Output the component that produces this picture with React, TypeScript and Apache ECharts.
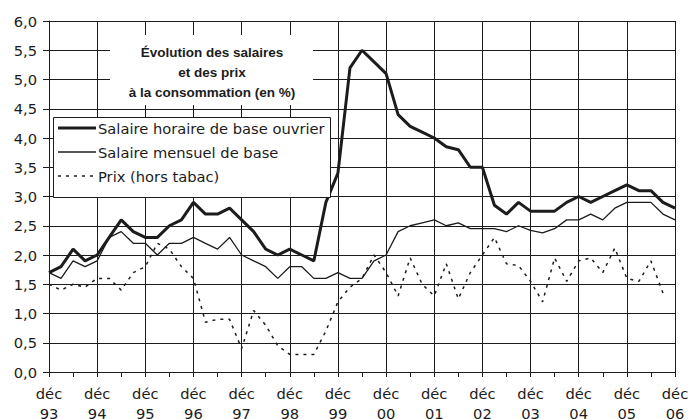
import React, { useEffect, useRef } from 'react';
import * as echarts from 'echarts';

const years = ['93', '94', '95', '96', '97', '98', '99', '00', '01', '02', '03', '04', '05', '06'];
const quarterMonths = ['mars', 'juin', 'sept', 'déc'];
const categories: string[] = ['déc 93'];
for (let y = 1; y < years.length; y++) for (const m of quarterMonths) categories.push(`${m} ${years[y]}`);

const seriesNames = ['Salaire horaire de base ouvrier', 'Salaire mensuel de base', 'Prix (hors tabac)'];

const horaire = [
  1.7, 1.8, 2.1, 1.9, 2.0, 2.3, 2.6, 2.4, 2.3, 2.3, 2.5, 2.6, 2.9,
  2.7, 2.7, 2.8, 2.6, 2.4, 2.1, 2.0, 2.1, 2.0, 1.9, 2.9, 3.4,
  5.2, 5.5, 5.3, 5.1, 4.4, 4.2, 4.1, 4.0, 3.85, 3.8, 3.5, 3.5,
  2.85, 2.7, 2.9, 2.75, 2.75, 2.75, 2.9, 3.0, 2.9, 3.0, 3.1, 3.2, 3.1, 3.1, 2.9, 2.8,
];
const mensuel = [
  1.7, 1.6, 1.9, 1.8, 1.9, 2.3, 2.4, 2.2, 2.2, 2.0, 2.2, 2.2, 2.3,
  2.2, 2.1, 2.3, 2.0, 1.9, 1.8, 1.6, 1.8, 1.8, 1.6, 1.6, 1.7,
  1.6, 1.6, 1.9, 2.0, 2.4, 2.5, 2.55, 2.6, 2.5, 2.55, 2.45, 2.45,
  2.45, 2.4, 2.5, 2.42, 2.38, 2.45, 2.6, 2.6, 2.7, 2.6, 2.8, 2.9, 2.9, 2.9, 2.7, 2.6,
];
const prix: (number | null)[] = [
  1.5, 1.4, 1.5, 1.45, 1.6, 1.6, 1.4, 1.7, 1.8, 2.2, 2.1, 1.8, 1.6,
  0.85, 0.9, 0.9, 0.4, 1.05, 0.8, 0.45, 0.3, 0.3, 0.3, 0.7, 1.2,
  1.45, 1.6, 2.0, 1.7, 1.3, 1.95, 1.5, 1.3, 1.85, 1.25, 1.7, 2.0,
  2.3, 1.85, 1.82, 1.55, 1.2, 1.95, 1.55, 1.9, 1.95, 1.7, 2.12, 1.6, 1.55, 1.9, 1.35, null,
];

const titleLines = ['Évolution des salaires', 'et des prix', 'à la consommation (en %)'];

const INK = '#1c1c1c';
const FONT = 'DejaVu Sans';
const lineWidths = [3, 1.3, 1.5];
const lineTypes: any[] = ['solid', 'solid', [3, 5]];

export default function App() {
  const ref = useRef<HTMLDivElement>(null);
  useEffect(() => {
    if (!ref.current) return;
    const chart = echarts.init(ref.current, undefined, { renderer: 'svg' });

    const legendEls: any[] = [
      { type: 'rect', z: 5, shape: { x: 53.5, y: 117.5, width: 277, height: 80 }, style: { fill: '#fff', stroke: INK, lineWidth: 1 } },
    ];
    seriesNames.forEach((name, k) => {
      const cy = 128 + k * 24;
      legendEls.push({
        type: 'line', z: 6,
        shape: { x1: 58, y1: cy, x2: 96, y2: cy },
        style: { stroke: INK, lineWidth: lineWidths[k], lineDash: Array.isArray(lineTypes[k]) ? lineTypes[k] : null },
      });
      legendEls.push({
        type: 'text', z: 6, x: 98, y: cy,
        style: { text: name, font: `14.7px "${FONT}"`, fill: INK, verticalAlign: 'middle', align: 'left' },
      });
    });

    const option: any = {
      animation: false,
      backgroundColor: '#fff',
      textStyle: { fontFamily: FONT, color: INK },
      grid: { left: 49, right: 14, top: 21, bottom: 47, containLabel: false, outerBoundsMode: 'none' },
      xAxis: {
        type: 'category',
        data: categories,
        boundaryGap: false,
        axisLine: { show: true, lineStyle: { color: INK, width: 1 } },
        axisTick: { show: true, interval: 1, length: 5, lineStyle: { color: INK } },
        splitLine: { show: true, interval: (i: number) => i % 4 === 0, lineStyle: { color: INK, width: 1 } },
        axisLabel: {
          interval: 3,
          margin: 11,
          fontFamily: FONT,
          fontSize: 14.7,
          color: INK,
          lineHeight: 20,
          formatter: (v: string) => v.replace(' ', '\n'),
        },
      },
      yAxis: {
        type: 'value',
        min: 0,
        max: 6,
        interval: 0.5,
        axisLine: { show: true, lineStyle: { color: INK, width: 1 } },
        axisTick: { show: true, length: 6, lineStyle: { color: INK } },
        splitLine: { show: true, lineStyle: { color: INK, width: 1 } },
        axisLabel: {
          margin: 12,
          fontFamily: FONT,
          fontSize: 14.7,
          color: INK,
          formatter: (v: number) => v.toFixed(1).replace('.', ','),
        },
      },
      graphic: [
        { type: 'rect', z: 5, shape: { x: 110, y: 35, width: 203, height: 70 }, style: { fill: '#fff' } },
        {
          type: 'text', z: 6, x: 212, y: 42,
          style: {
            text: titleLines.join('\n'),
            align: 'center', verticalAlign: 'top',
            font: 'bold 13.5px "Liberation Sans"',
            lineHeight: 20, fill: INK,
          },
        },
        ...legendEls,
      ],
      series: seriesNames.map((name, k) => ({
        name,
        type: 'line',
        data: [horaire, mensuel, prix][k],
        symbol: 'none',
        lineStyle: { width: lineWidths[k], color: INK, type: lineTypes[k] },
        itemStyle: { color: INK },
      })),
    };
    chart.setOption(option);
    return () => chart.dispose();
  }, []);
  return <div ref={ref} style={{ position: 'fixed', left: 0, top: 0, width: 689, height: 419 }} />;
}
